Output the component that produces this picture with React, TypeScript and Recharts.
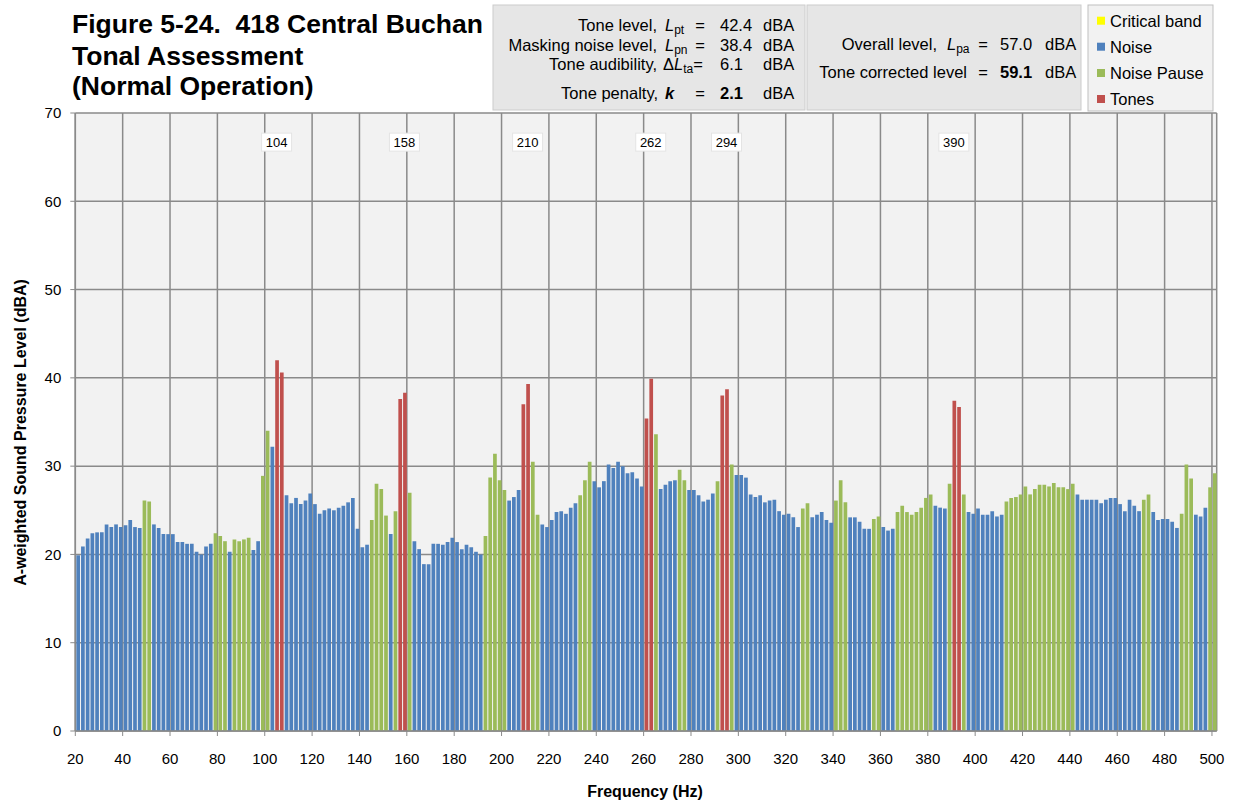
import React from "react";
import { BarChart, Bar, XAxis, YAxis, CartesianGrid, ReferenceDot } from "recharts";

// 2 Hz bins, labelled by their lower edge
const freqs = Array.from({ length: 241 }, (_, i) => 20 + 2 * i);

const levels = [
  19.9, 20.9, 21.8, 22.4, 22.5, 22.5, 23.4, 23.1, 23.4, 23.1,
  23.3, 23.9, 23.1, 23.0, 26.1, 26.0, 23.4, 23.0, 22.3, 22.3,
  22.3, 21.4, 21.4, 21.2, 21.2, 20.3, 20.0, 20.9, 21.2, 22.4,
  22.1, 21.5, 20.3, 21.7, 21.5, 21.7, 21.9, 20.5, 21.5, 28.9,
  34.0, 32.2, 42.0, 40.6, 26.7, 25.8, 26.4, 25.7, 26.1, 26.9,
  25.7, 24.6, 25.0, 25.2, 25.0, 25.3, 25.5, 25.9, 26.4, 22.9,
  20.8, 21.1, 23.9, 28.0, 27.4, 24.4, 22.3, 24.9, 37.6, 38.3,
  27.0, 21.5, 20.6, 18.9, 18.9, 21.2, 21.2, 21.1, 21.4, 21.9,
  21.4, 20.6, 21.1, 20.8, 20.3, 20.0, 22.1, 28.7, 31.4, 28.4,
  27.3, 26.1, 26.5, 27.3, 37.0, 39.3, 30.5, 24.5, 23.4, 23.1,
  23.9, 24.8, 24.9, 24.6, 25.3, 25.8, 26.7, 28.4, 30.5, 28.3,
  27.6, 28.3, 30.2, 29.8, 30.5, 30.0, 29.2, 29.3, 28.6, 27.7,
  35.4, 39.9, 33.6, 27.4, 27.9, 28.3, 28.4, 29.6, 28.4, 27.3,
  27.3, 26.7, 26.0, 26.2, 26.9, 28.3, 38.0, 38.7, 30.2, 29.0,
  29.0, 28.7, 26.8, 26.5, 26.7, 25.9, 26.1, 26.2, 24.9, 24.5,
  24.6, 24.2, 23.1, 25.2, 25.8, 24.2, 24.5, 24.8, 23.9, 23.6,
  26.1, 28.4, 25.9, 24.2, 24.2, 23.7, 22.9, 22.9, 24.0, 24.3,
  23.1, 22.7, 22.9, 24.8, 25.5, 24.8, 24.5, 24.8, 25.3, 26.4,
  26.8, 25.5, 25.3, 25.2, 28.0, 37.4, 36.7, 26.8, 24.8, 24.6,
  25.2, 24.5, 24.5, 24.9, 24.3, 24.5, 26.0, 26.4, 26.5, 26.8,
  27.7, 26.8, 27.4, 27.9, 27.9, 27.7, 28.1, 27.6, 27.6, 27.4,
  28.0, 26.8, 26.2, 26.2, 26.2, 26.2, 25.8, 26.2, 26.4, 26.4,
  25.7, 24.9, 26.2, 25.5, 24.9, 26.2, 26.8, 24.8, 23.9, 24.0,
  24.0, 23.7, 23.0, 24.6, 30.2, 28.6, 24.5, 24.3, 25.3, 27.6,
  29.2,
];

// N = noise, P = noise pause, T = tone
const kinds = (
  "NNNNNNNNNN" + "NNNNPPNNNN" + "NNNNNNNNNP" + "PPNPPPPNNP" + "PNTTNNNNNN" +
  "NNNNNNNNNN" + "NNPPPPNPTT" + "PNNNNNNNNN" + "NNNNNNPPPP" + "PNNNTTPPNN" +
  "NNNNNNPPPN" + "NNNNNNNNNN" + "TTPNNNNPPN" + "NNNNNPTTPN" + "NNNNNNNNNN" +
  "NNNPPNNNNN" + "PPPNNNNNPP" + "NNNPPPPPPP" + "PNNNPTTPNN" + "NNNNNNPPPP" +
  "PPPPPPPPPP" + "PNNNNNNNNN" + "NNNNNPPNNN" + "NNNPPPNNNP" + "P"
).split("");

const toneLabels = [104, 158, 210, 262, 294, 390];
const xTicks = [20, 40, 60, 80, 100, 120, 140, 160, 180, 200, 220, 240, 260, 280, 300, 320, 340, 360, 380, 400, 420, 440, 460, 480, 500];
const yTicks = [0, 10, 20, 30, 40, 50, 60, 70];

const data = freqs.map((f, i) => ({
  x: f + 1,
  noise: kinds[i] === "N" ? levels[i] : 0,
  pause: kinds[i] === "P" ? levels[i] : 0,
  tone: kinds[i] === "T" ? levels[i] : 0,
}));

const FONT = "'Liberation Sans', Arial, sans-serif";
const GRID = "#8a8a8a";

function ToneTag({ cx, cy, f }: any) {
  return (
    <g>
      <rect x={cx - 15} y={cy - 9} width={30} height={18} fill="#ffffff" stroke="#e4e4e4" />
      <text x={cx} y={cy + 4.5} textAnchor="middle" fontSize={13} fontFamily={FONT} fill="#000">
        {f}
      </text>
    </g>
  );
}

function Sym({ x, y, sym, sub, delta }: { x: number; y: number; sym: string; sub: string; delta?: boolean }) {
  return (
    <text x={x} y={y} fontSize={16.5}>
      {delta ? "Δ" : ""}
      <tspan fontStyle="italic">{sym}</tspan>
      <tspan fontSize={12} dy={3}>{sub}</tspan>
    </text>
  );
}

export default function App() {
  return (
    <div style={{ position: "absolute", left: 0, top: 0, width: 1241, height: 801, background: "#fff", fontFamily: FONT }}>
      <BarChart
        width={1241}
        height={801}
        data={data}
        margin={{ top: 113, right: 24.3, bottom: 40, left: 15.3 }}
      >
        <CartesianGrid stroke={GRID} strokeWidth={1.5} fill="#f2f2f2" fillOpacity={1} />
        <XAxis
          type="number"
          dataKey="x"
          domain={[20, 502]}
          ticks={xTicks}
          interval={0}
          tickSize={5}
          tickMargin={17}
          tick={{ fontSize: 15, fill: "#000", fontFamily: FONT }}
          tickLine={{ stroke: GRID }}
          axisLine={{ stroke: GRID, strokeWidth: 1.5 }}
        />
        <YAxis
          type="number"
          domain={[0, 70]}
          ticks={yTicks}
          interval={0}
          width={60}
          tickSize={5}
          tickMargin={9}
          tick={{ fontSize: 15, fill: "#000", fontFamily: FONT }}
          tickLine={{ stroke: GRID }}
          axisLine={{ stroke: GRID, strokeWidth: 1.5 }}
        />
        <Bar dataKey="noise" name="Noise" stackId="s" fill="#4f81bd" barSize={3.7} isAnimationActive={false} />
        <Bar dataKey="pause" name="Noise Pause" stackId="s" fill="#9bbb59" barSize={3.7} isAnimationActive={false} />
        <Bar dataKey="tone" name="Tones" stackId="s" fill="#c0504d" barSize={3.7} isAnimationActive={false} />
        {toneLabels.map((f) => (
          <ReferenceDot key={f} x={f + 1} y={66.7} r={0} shape={(p: any) => <ToneTag {...p} f={f} />} />
        ))}
      </BarChart>

      <svg
        width={1241}
        height={801}
        style={{ position: "absolute", left: 0, top: 0, pointerEvents: "none" }}
        fontFamily={FONT}
        fill="#000"
      >
        {/* title */}
        <g fontSize={26.5} fontWeight="bold">
          <text x={72} y={33.3}>Figure 5-24.{"\u00a0 "}418 Central Buchan</text>
          <text x={72} y={64.5}>Tonal Assessment</text>
          <text x={72} y={95}>(Normal Operation)</text>
        </g>

        {/* tone box */}
        <rect x={493} y={5} width={312} height={105} fill="#e6e6e6" stroke="#cccccc" />
        <g fontSize={16.5}>
          <text x={657} y={30.5} textAnchor="end">Tone level,</text>
          <text x={657} y={50.7} textAnchor="end">Masking noise level,</text>
          <text x={657} y={70} textAnchor="end">Tone audibility,</text>
          <text x={658} y={99} textAnchor="end">Tone penalty,</text>
        </g>
        <Sym x={665} y={30.5} sym="L" sub="pt" />
        <Sym x={665} y={50.7} sym="L" sub="pn" />
        <Sym x={663} y={70} sym="L" sub="ta" delta />
        <text x={665} y={99} fontSize={16.5} fontStyle="italic" fontWeight="bold">k</text>
        <g fontSize={16.5}>
          <text x={700} y={30.5} textAnchor="middle">=</text>
          <text x={700} y={50.7} textAnchor="middle">=</text>
          <text x={698} y={70} textAnchor="middle">=</text>
          <text x={700} y={99} textAnchor="middle">=</text>
          <text x={720} y={30.5}>42.4</text>
          <text x={720} y={50.7}>38.4</text>
          <text x={720} y={70}>6.1</text>
          <text x={720} y={99} fontWeight="bold">2.1</text>
          <text x={763} y={30.5}>dBA</text>
          <text x={763} y={50.7}>dBA</text>
          <text x={763} y={70}>dBA</text>
          <text x={763} y={99}>dBA</text>
        </g>

        {/* overall box */}
        <rect x={807} y={5} width={274} height={105} fill="#e6e6e6" stroke="#cccccc" />
        <g fontSize={16.5}>
          <text x={937} y={50} textAnchor="end">Overall level,</text>
          <text x={967} y={78.3} textAnchor="end">Tone corrected level</text>
          <text x={983} y={50} textAnchor="middle">=</text>
          <text x={983} y={78.3} textAnchor="middle">=</text>
          <text x={1000} y={50}>57.0</text>
          <text x={1000} y={78.3} fontWeight="bold">59.1</text>
          <text x={1045} y={50}>dBA</text>
          <text x={1045} y={78.3}>dBA</text>
        </g>
        <Sym x={947} y={50} sym="L" sub="pa" />

        {/* legend */}
        <rect x={1088} y={5} width={125} height={106} fill="#f2f2f2" stroke="#bfbfbf" />
        {[
          { name: "Critical band", color: "#ffff00", y: 26.7 },
          { name: "Noise", color: "#4f81bd", y: 52.7 },
          { name: "Noise Pause", color: "#9bbb59", y: 79 },
          { name: "Tones", color: "#c0504d", y: 105 },
        ].map((it) => (
          <g key={it.name}>
            <rect x={1097} y={it.y - 10} width={8} height={8} fill={it.color} />
            <text x={1110} y={it.y} fontSize={16.5}>{it.name}</text>
          </g>
        ))}

        {/* axis titles */}
        <text x={645} y={797} textAnchor="middle" fontSize={16} fontWeight="bold">Frequency (Hz)</text>
        <text
          x={25.5}
          y={432.5}
          textAnchor="middle"
          fontSize={16}
          fontWeight="bold"
          transform="rotate(-90 25.5 432.5)"
        >
          A-weighted Sound Pressure Level (dBA)
        </text>
      </svg>
    </div>
  );
}
